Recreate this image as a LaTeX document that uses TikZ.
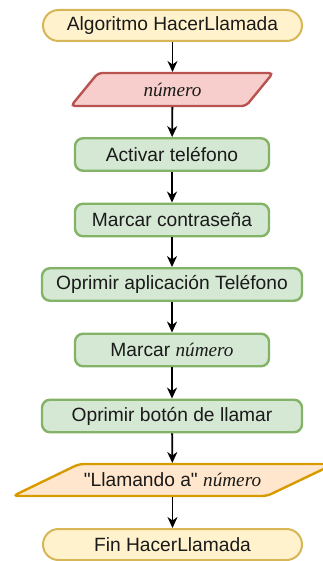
\documentclass[tikz,border=0pt]{standalone}
\usepackage{fontspec}
\setmainfont{Liberation Sans}
\newfontfamily\tnrfam{Liberation Serif}
\newcommand\Numero{{\tnrfam\itshape número}}
\usetikzlibrary{arrows.meta}
\definecolor{termfill}{HTML}{FFF2CC}
\definecolor{termline}{HTML}{D6B656}
\definecolor{inpfill}{HTML}{F8CECC}
\definecolor{inpline}{HTML}{B85450}
\definecolor{procfill}{HTML}{D5E8D4}
\definecolor{procline}{HTML}{82B366}
\definecolor{outfill}{HTML}{FFE6CC}
\definecolor{outline}{HTML}{D79B00}
\definecolor{txt}{HTML}{1A1A1A}
\begin{document}
\begin{tikzpicture}[x=1pt,y=-1pt,
  font=\fontsize{19.2}{22}\selectfont, text=txt,
  term/.style={draw=termline, fill=termfill, line width=2pt, rounded corners=15.5pt,
    minimum width=259pt, minimum height=31pt, inner sep=0pt},
  proc/.style={draw=procline, fill=procfill, line width=2.4pt, rounded corners=8pt,
    minimum height=32.5pt, inner sep=0pt},
  slot/.style={minimum height=#1, minimum width=100pt, inner sep=0pt, outer sep=1pt},
  arr/.style={-{Stealth[length=11pt,width=10pt,inset=3.5pt]}, line width=1.8pt, black}
]
\useasboundingbox (0,0) rectangle (322,561);

\node[term] (start) at (172.5,25.5) {Algoritmo HacerLlamada};

\draw[draw=inpline, fill=inpfill, line width=2.4pt, rounded corners=4pt]
  (98,73) -- (273,73) -- (246,106) -- (71,106) -- cycle;
\node[slot=33pt] (in) at (172.5,89.5) {\Numero};

\node[proc, minimum width=194pt] (act) at (172,154.5) {Activar teléfono};
\node[proc, minimum width=194pt] (con) at (172,220) {Marcar contraseña};
\node[proc, minimum width=260pt] (app) at (172,284.5) {Oprimir aplicación Teléfono};
\node[proc, minimum width=194pt] (mar) at (172,350) {Marcar \Numero};
\node[proc, minimum width=260pt] (bot) at (172,416) {Oprimir botón de llamar};

\draw[draw=outline, fill=outfill, line width=2.4pt, rounded corners=5pt]
  (79,464) -- (334,464) -- (267,496) -- (13,496) -- cycle;
\node[slot=32pt] (out) at (172.5,480) {\textquotedbl Llamando a\textquotedbl\ \Numero};

\node[term] (fin) at (172.5,544.5) {Fin HacerLlamada};

\draw[arr] (start) -- (in);
\draw[arr] (in) -- (act);
\draw[arr] (act) -- (con);
\draw[arr] (con) -- (app);
\draw[arr] (app) -- (mar);
\draw[arr] (mar) -- (bot);
\draw[arr] (bot) -- (out);
\draw[arr] (out) -- (fin);
\end{tikzpicture}
\end{document}
